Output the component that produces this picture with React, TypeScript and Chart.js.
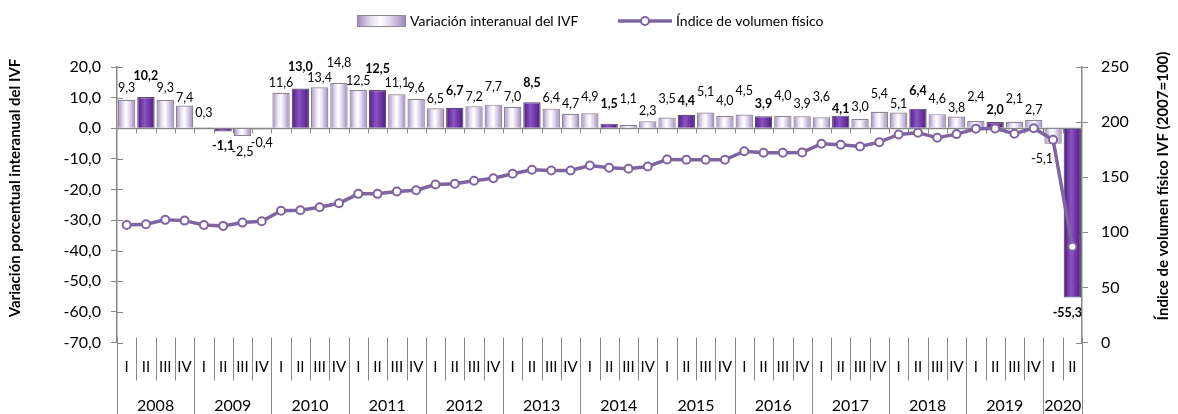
import React, { useEffect, useRef } from 'react';
import { Chart, registerables } from 'chart.js';
Chart.register(...registerables);

// ---------- data ----------
const years = ['2008', '2009', '2010', '2011', '2012', '2013', '2014', '2015', '2016', '2017', '2018', '2019', '2020'];
const quartersPerYear = [4, 4, 4, 4, 4, 4, 4, 4, 4, 4, 4, 4, 2];
const quarterNames = ['I', 'II', 'III', 'IV'];

const variation = [
  9.3, 10.2, 9.3, 7.4,
  0.3, -1.1, -2.5, -0.4,
  11.6, 13.0, 13.4, 14.8,
  12.5, 12.5, 11.1, 9.6,
  6.5, 6.7, 7.2, 7.7,
  7.0, 8.5, 6.4, 4.7,
  4.9, 1.5, 1.1, 2.3,
  3.5, 4.4, 5.1, 4.0,
  4.5, 3.9, 4.0, 3.9,
  3.6, 4.1, 3.0, 5.4,
  5.1, 6.4, 4.6, 3.8,
  2.4, 2.0, 2.1, 2.7,
  -5.1, -55.3,
];

const ivf = [
  106.7, 107.3, 111.3, 110.6,
  106.7, 105.8, 108.8, 110.0,
  119.5, 120.0, 122.7, 126.4,
  134.9, 134.9, 137.0, 138.2,
  143.4, 144.0, 146.7, 149.1,
  153.1, 156.7, 156.1, 156.1,
  160.6, 158.5, 157.6, 159.7,
  166.1, 165.8, 165.8, 165.8,
  173.6, 172.2, 172.2, 172.5,
  180.4, 179.5, 177.9, 181.8,
  188.8, 190.4, 185.8, 189.1,
  194.0, 194.3, 189.5, 194.5,
  184.0, 87.0,
];

const leftAxis = { min: -70, max: 20, step: 10 };
const rightAxis = { min: 0, max: 250, step: 50 };

const seriesNames = ['Variación interanual del IVF', 'Índice de volumen físico'];
const leftTitle = 'Variación porcentual interanual del IVF';
const rightTitle = 'Índice de volumen físico IVF (2007=100)';

// categories built from years + quarters
const categories: string[] = [];
const quarterLabels: string[] = [];
years.forEach((y, yi) => {
  for (let q = 0; q < quartersPerYear[yi]; q++) {
    categories.push(`${y} ${quarterNames[q]}`);
    quarterLabels.push(quarterNames[q]);
  }
});

// ---------- styling ----------
const FONT = 'Lato, "Noto Sans", sans-serif';
const AXIS_GRAY = '#878787';
const LINE_PURPLE = '#8064a2';
const BAR_PCT = 0.9;
// distance (px) of each value label from the bar end
const labelGap = [
  12, 21, 12, 8, 14, 14, 16, 14, 10, 21, 9, 20, 9, 21, 11, 11, 9, 17, 9, 18,
  10, 19, 11, 10, 16, 20, 26, 10, 19, 14, 21, 15, 23, 12, 20, 12, 20, 7, 12, 18,
  9, 18, 15, 9, 24, 12, 23, 10, 15, 15,
];
const labelDx: Record<number, number> = { 48: -11, 49: -5 };

const fmt1 = (v: number) => v.toFixed(1).replace('.', ',');
const isDark = (i: number) => i % 4 === 1;

function makeGradient(ctx: CanvasRenderingContext2D, x0: number, x1: number, dark: boolean) {
  const g = ctx.createLinearGradient(x0, 0, x1, 0);
  if (dark) {
    g.addColorStop(0, '#4a1d72');
    g.addColorStop(0.15, '#642c9a');
    g.addColorStop(0.42, '#8a55c0');
    g.addColorStop(0.58, '#7a42b2');
    g.addColorStop(0.85, '#5f2893');
    g.addColorStop(1, '#4a1d72');
  } else {
    g.addColorStop(0, '#9a86b6');
    g.addColorStop(0.13, '#bfaed6');
    g.addColorStop(0.3, '#e9e2f2');
    g.addColorStop(0.48, '#ffffff');
    g.addColorStop(0.66, '#e3d9ee');
    g.addColorStop(0.86, '#bba9d3');
    g.addColorStop(1, '#9882b4');
  }
  return g;
}

function barFill(c: any) {
  const chart = c.chart;
  const xs = chart.scales && chart.scales.x;
  const i = c.dataIndex;
  const dark = isDark(i ?? 0);
  if (!xs || i == null || !chart.chartArea) return dark ? '#6b2fa0' : '#ddd2ea';
  const cx = xs.getPixelForValue(i);
  const w = (xs.width / categories.length) * BAR_PCT;
  return makeGradient(chart.ctx, cx - w / 2, cx + w / 2, dark);
}

const decorPlugin = {
  id: 'decor',
  beforeDatasetsDraw(chart: any) {
    const { ctx, chartArea: a, scales } = chart;
    const xs = scales.x, ys = scales.y, y1 = scales.y1;
    ctx.save();
    ctx.strokeStyle = AXIS_GRAY;
    ctx.lineWidth = 1;
    // inner halves of crossing ticks
    for (let v = leftAxis.min; v <= leftAxis.max; v += leftAxis.step) {
      const y = Math.round(ys.getPixelForValue(v)) + 0.5;
      ctx.beginPath(); ctx.moveTo(a.left, y); ctx.lineTo(a.left + 6, y); ctx.stroke();
    }
    for (let v = rightAxis.min; v <= rightAxis.max; v += rightAxis.step) {
      const y = Math.round(y1.getPixelForValue(v)) + 0.5;
      ctx.beginPath(); ctx.moveTo(a.right - 6, y); ctx.lineTo(a.right, y); ctx.stroke();
    }
    // category axis at zero with ticks
    const y0 = Math.round(ys.getPixelForValue(0)) + 0.5;
    ctx.lineWidth = 1.5;
    ctx.beginPath(); ctx.moveTo(a.left, y0); ctx.lineTo(a.right, y0); ctx.stroke();
    ctx.lineWidth = 1;
    const cw = xs.width / categories.length;
    for (let k = 1; k < categories.length; k++) {
      const x = Math.round(a.left + k * cw) + 0.5;
      ctx.beginPath(); ctx.moveTo(x, y0); ctx.lineTo(x, y0 + 5); ctx.stroke();
    }
    ctx.restore();
  },
  afterDatasetsDraw(chart: any) {
    const { ctx } = chart;
    const meta = chart.getDatasetMeta(0);
    ctx.save();
    ctx.fillStyle = '#000';
    ctx.textAlign = 'center';
    ctx.textBaseline = 'middle';
    meta.data.forEach((el: any, i: number) => {
      const { x, y } = el.getProps(['x', 'y'], true);
      const v = variation[i];
      ctx.font = `${isDark(i) ? 'bold ' : ''}12.5px ${FONT}`;
      const ly = v >= 0 ? y - labelGap[i] : y + labelGap[i];
      ctx.fillText(fmt1(v), x + (labelDx[i] || 0), ly);
    });
    ctx.restore();
  },
  afterDraw(chart: any) {
    const { ctx, chartArea: a, scales } = chart;
    const xs = scales.x;
    const H = chart.height;
    ctx.save();
    // category separators
    ctx.strokeStyle = AXIS_GRAY;
    ctx.lineWidth = 1;
    const cw = xs.width / categories.length;
    const yearBounds = new Set<number>();
    let acc = 0;
    yearBounds.add(0);
    quartersPerYear.forEach((n) => { acc += n; yearBounds.add(acc); });
    for (let k = 0; k <= categories.length; k++) {
      const x = Math.round(a.left + k * cw) + 0.5;
      ctx.beginPath();
      ctx.moveTo(x, a.bottom - 5);
      ctx.lineTo(x, yearBounds.has(k) ? H : a.bottom + 38);
      ctx.stroke();
    }
    // quarter labels
    ctx.fillStyle = '#000';
    ctx.textAlign = 'center';
    ctx.textBaseline = 'middle';
    ctx.font = `15px ${FONT}`;
    quarterLabels.forEach((q, i) => {
      ctx.fillText(q, xs.getPixelForValue(i), a.bottom + 25);
    });
    // year labels
    ctx.font = `16px ${FONT}`;
    let start = 0;
    years.forEach((y, yi) => {
      const n = quartersPerYear[yi];
      const x0 = a.left + start * cw, x1 = a.left + (start + n) * cw;
      ctx.fillText(y, (x0 + x1) / 2, a.bottom + 63);
      start += n;
    });
    // axis titles
    ctx.font = `bold 15px ${FONT}`;
    ctx.save();
    ctx.translate(15, 188); ctx.rotate(-Math.PI / 2);
    ctx.fillText(leftTitle, 0, 0);
    ctx.restore();
    ctx.save();
    ctx.translate(1163, 186); ctx.rotate(-Math.PI / 2);
    ctx.fillText(rightTitle, 0, 0);
    ctx.restore();
    // legend
    const ly = 21;
    ctx.fillStyle = makeGradient(ctx, 357, 406, false);
    ctx.fillRect(357, ly - 6, 49, 12);
    ctx.strokeStyle = '#8e8a96';
    ctx.strokeRect(357.5, ly - 5.5, 48, 11);
    ctx.fillStyle = '#000';
    ctx.textAlign = 'left';
    ctx.font = `14px ${FONT}`;
    ctx.fillText(seriesNames[0], 410, ly);
    ctx.strokeStyle = LINE_PURPLE;
    ctx.lineWidth = 3.5;
    ctx.beginPath(); ctx.moveTo(618, ly); ctx.lineTo(672, ly); ctx.stroke();
    ctx.beginPath(); ctx.arc(645, ly, 4, 0, Math.PI * 2);
    ctx.fillStyle = '#fff'; ctx.fill();
    ctx.lineWidth = 2; ctx.stroke();
    ctx.fillStyle = '#000';
    ctx.fillText(seriesNames[1], 676, ly);
    ctx.restore();
  },
};

export default function App() {
  const ref = useRef<HTMLCanvasElement>(null);
  useEffect(() => {
    const canvas = ref.current!;
    const chart = new Chart(canvas, {
      type: 'bar',
      data: {
        labels: categories,
        datasets: [
          {
            type: 'bar',
            label: seriesNames[0],
            data: variation,
            yAxisID: 'y',
            backgroundColor: barFill as any,
            borderColor: ((c: any) => (isDark(c.dataIndex ?? 0) ? '#5d4b72' : '#8a8494')) as any,
            borderWidth: 1.2,
            barPercentage: BAR_PCT,
            categoryPercentage: 1,
            order: 2,
          },
          {
            type: 'line',
            label: seriesNames[1],
            data: ivf,
            yAxisID: 'y1',
            borderColor: LINE_PURPLE,
            borderWidth: 3.5,
            pointRadius: 4,
            pointBorderWidth: 2,
            pointBackgroundColor: '#ffffff',
            pointBorderColor: LINE_PURPLE,
            tension: 0,
            order: 1,
          } as any,
        ],
      },
      options: {
        responsive: false,
        animation: false,
        devicePixelRatio: 1,
        layout: { padding: { top: 67, bottom: 0, left: 0, right: 0 } },
        plugins: { legend: { display: false }, tooltip: { enabled: false } },
        scales: {
          x: {
            type: 'category',
            offset: true,
            grid: { display: false },
            border: { display: false },
            ticks: { display: false },
            afterFit: (s: any) => { s.height = 71.5; },
          },
          y: {
            position: 'left',
            min: leftAxis.min,
            max: leftAxis.max,
            ticks: {
              stepSize: leftAxis.step,
              color: '#000',
              font: { family: FONT, size: 16 },
              padding: 10,
              callback: (v: any) => fmt1(Number(v)),
            },
            grid: { drawOnChartArea: false, drawTicks: true, tickLength: 6, color: AXIS_GRAY },
            border: { color: AXIS_GRAY, width: 1.5 },
            afterFit: (s: any) => { s.width = 117; },
          },
          y1: {
            position: 'right',
            min: rightAxis.min,
            max: rightAxis.max,
            ticks: {
              stepSize: rightAxis.step,
              color: '#000',
              font: { family: FONT, size: 16 },
              padding: 13,
            },
            grid: { drawOnChartArea: false, drawTicks: true, tickLength: 6, color: AXIS_GRAY },
            border: { color: AXIS_GRAY, width: 1.5 },
            afterFit: (s: any) => { s.width = 96; },
          },
        },
      },
      plugins: [decorPlugin],
    });
    return () => chart.destroy();
  }, []);
  return (
    <div style={{ position: 'fixed', left: 0, top: 0, width: 1178, height: 414, background: '#fff' }}>
      <canvas ref={ref} width={1178} height={414} style={{ display: 'block', width: 1178, height: 414 }} />
    </div>
  );
}
